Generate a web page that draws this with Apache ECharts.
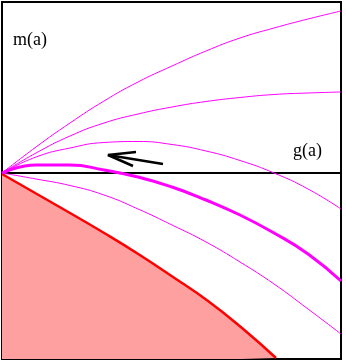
<!DOCTYPE html>
<html>
<head>
<meta charset="utf-8">
<script src="https://cdn.jsdelivr.net/npm/echarts@6/dist/echarts.min.js"></script>
<style>
  html, body { margin: 0; padding: 0; background: #fff; }
  #main { width: 346px; height: 364px; }
</style>
</head>
<body>
<div id="main"></div>
<script>
// sample positions along a
var aValues = [0, 34, 68, 102, 136, 170, 204, 238, 272, 306, 339];
// m(a) curves, value relative to g(a)
var curve1 = [0, 26, 50, 72, 91, 107, 122, 135, 145, 154, 162];
var curve2 = [0, 20, 37, 50, 59, 66, 71.5, 75.5, 78.5, 80, 81];
var curve3 = [0, 16, 25, 30.5, 31.5, 28.5, 22, 12.5, 0, -16, -36];
var curveThick = [0, 8, 8, 3, -4, -14, -27, -42, -60, -81, -108];
var curve5 = [0, -6, -12.5, -22, -36, -52, -69, -89, -111, -136, -161];
// boundary of the forbidden region
var cpA = [0, 34, 68, 103, 137, 171, 206, 240, 274];
var cpBoundary = [-1, -20.5, -40, -60.5, -81.5, -104, -128, -155, -185];
// arrow
var arrowShaft = [[161, 9], [106, 18]];
var arrowHead = [[134, 21], [106, 18], [131, 7]];

var xRange = [0, 339];
var yRange = [-186, 171];

function pairs(xs, ys) {
  return xs.map(function (x, i) { return [x, ys[i]]; });
}

var myChart = echarts.init(document.getElementById('main'));

function curve(values, width) {
  return {
    type: 'line', data: pairs(aValues, values), smooth: 0.5,
    symbol: 'none', silent: true,
    lineStyle: { color: '#ff00ff', width: width }
  };
}

var option = {
  animation: false,
  grid: {
    left: 2, top: 2, width: 339, height: 357,
    show: true, borderColor: '#000', borderWidth: 2
  },
  xAxis: {
    type: 'value', min: xRange[0], max: xRange[1],
    axisLine: { show: true, onZero: true, lineStyle: { color: '#000', width: 2 } },
    axisTick: { show: false }, axisLabel: { show: false }, splitLine: { show: false }
  },
  yAxis: {
    type: 'value', min: yRange[0], max: yRange[1],
    axisLine: { show: false }, axisTick: { show: false },
    axisLabel: { show: false }, splitLine: { show: false }
  },
  series: [
    {
      type: 'line', data: pairs(cpA, cpBoundary), smooth: 0.5,
      symbol: 'none', silent: true,
      lineStyle: { color: '#ff0000', width: 2.5 },
      areaStyle: { color: '#ffa0a0', opacity: 1, origin: 'start' },
      z: 1
    },
    curve(curve1, 1),
    curve(curve2, 1),
    curve(curve3, 1),
    curve(curveThick, 3),
    curve(curve5, 1),
    {
      type: 'line', data: arrowShaft, symbol: 'none', silent: true,
      lineStyle: { color: '#000', width: 2.5 }
    },
    {
      type: 'line', data: arrowHead, symbol: 'none', silent: true,
      lineStyle: { color: '#000', width: 2.5 }
    }
  ],
  graphic: [
    { type: 'text', left: 13, top: 31, style: { text: 'm(a)', font: '18px "Liberation Serif"', fill: '#000' } },
    { type: 'text', left: 293, top: 142, style: { text: 'g(a)', font: '18px "Liberation Serif"', fill: '#000' } },
    { type: 'text', left: 67, top: 264, style: { text: 'CP', font: '18px "Liberation Serif"', fill: '#ff0000' } },
    { type: 'line', shape: { x1: 65, y1: 283, x2: 93, y2: 263 }, style: { stroke: '#ff0000', lineWidth: 1 } }
  ]
};

myChart.setOption(option);
</script>
</body>
</html>
